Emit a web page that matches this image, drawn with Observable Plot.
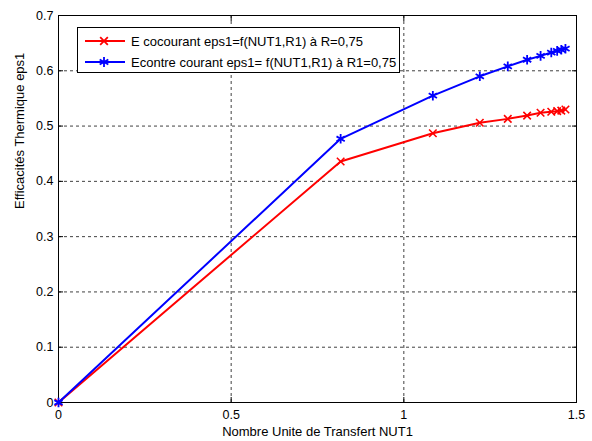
<!DOCTYPE html>
<html>
<head>
<meta charset="utf-8">
<script src="https://cdn.jsdelivr.net/npm/d3@7"></script>
<script src="https://cdn.jsdelivr.net/npm/@observablehq/plot@0.6"></script>
<style>
  html, body { margin: 0; padding: 0; background: #fff; }
  #wrap { position: relative; width: 592px; height: 441px; font-family: "Liberation Sans", Arial, sans-serif; }
  #legend {
    position: absolute; left: 77px; top: 27px; width: 321px; height: 44px;
    border: 1px solid #000; background: #fff; font-size: 13px; color: #000;
  }
  #legend .row { position: absolute; left: 0; height: 20px; display: flex; align-items: center; white-space: nowrap; }
  #legend svg { margin-left: 7px; margin-right: 6px; }
</style>
</head>
<body>
<div id="wrap"></div>
<script>
// Nombre d'unités de transfert NUT1
const nut = [0, 0.817, 1.084, 1.220, 1.301, 1.357, 1.396, 1.427, 1.444, 1.456, 1.468];
// Efficacité co-courant à R = 0,75
const epsCo = [0, 0.436, 0.487, 0.506, 0.513, 0.519, 0.524, 0.526, 0.527, 0.528, 0.530];
// Efficacité contre-courant à R1 = 0,75
const epsContre = [0, 0.477, 0.555, 0.590, 0.608, 0.620, 0.627, 0.633, 0.636, 0.638, 0.640];

const xTicks = [0, 0.5, 1, 1.5];
const yTicks = [0, 0.1, 0.2, 0.3, 0.4, 0.5, 0.6, 0.7];
const seriesNames = [
  "E cocourant eps1=f(NUT1,R1) à R=0,75",
  "Econtre courant eps1= f(NUT1,R1) à R1=0,75"
];
const xLabel = "Nombre Unite de Transfert NUT1";
const yLabel = "Efficacités Thermique eps1";

const co = nut.map((n, i) => ({n, e: epsCo[i]}));
const contre = nut.map((n, i) => ({n, e: epsContre[i]}));

const fmt = v => String(+v.toFixed(1));
const font = "Liberation Sans, Arial, sans-serif";

const chart = Plot.plot({
  width: 592,
  height: 441,
  marginLeft: 58,
  marginRight: 16,
  marginTop: 15,
  marginBottom: 39,
  style: {fontFamily: font, fontSize: "12.5px", color: "#000", background: "#fff"},
  x: {domain: [0, 1.5]},
  y: {domain: [0, 0.7]},
  marks: [
    Plot.gridX(xTicks.slice(1, -1), {stroke: "#000", strokeOpacity: 0.75, strokeDasharray: "3,3"}),
    Plot.gridY(yTicks.slice(1, -1), {stroke: "#000", strokeOpacity: 0.75, strokeDasharray: "3,3"}),
    Plot.axisX(xTicks, {anchor: "bottom", tickSize: -5, tickPadding: 13, tickFormat: fmt, label: null, fontSize: 12.5}),
    Plot.axisX(xTicks, {anchor: "top", tickSize: -5, tickFormat: () => "", label: null}),
    Plot.axisY(yTicks, {anchor: "left", tickSize: -5, tickPadding: 10, tickFormat: fmt, label: null, fontSize: 12.5}),
    Plot.axisY(yTicks, {anchor: "right", tickSize: -5, tickFormat: () => "", label: null}),
    Plot.frame({stroke: "#000"}),
    Plot.line(co, {x: "n", y: "e", stroke: "#ff0000", strokeWidth: 2}),
    Plot.dot(co, {x: "n", y: "e", symbol: "times", r: 3.5, stroke: "#ff0000", strokeWidth: 1.6}),
    Plot.line(contre, {x: "n", y: "e", stroke: "#0000ff", strokeWidth: 2}),
    Plot.dot(contre, {x: "n", y: "e", symbol: "asterisk", r: 4.5, stroke: "#0000ff", strokeWidth: 1.8}),
    Plot.text([xLabel], {frameAnchor: "bottom", dy: 33, fontSize: 13, fill: "#000"}),
    Plot.text([yLabel], {frameAnchor: "left", dx: -39, rotate: -90, fontSize: 13, fill: "#000"})
  ]
});

const wrap = document.getElementById("wrap");
wrap.appendChild(chart);

// Legend box
const legend = document.createElement("div");
legend.id = "legend";
const legendItems = [
  {name: seriesNames[0], color: "#ff0000", symbol: d3.symbolTimes, size: 40},
  {name: seriesNames[1], color: "#0000ff", symbol: d3.symbolAsterisk, size: 70}
];
legendItems.forEach((it, i) => {
  const row = document.createElement("div");
  row.className = "row";
  row.style.top = (3 + i * 21) + "px";
  const s = d3.create("svg").attr("width", 40).attr("height", 12);
  s.append("line").attr("x1", 0).attr("x2", 40).attr("y1", 6).attr("y2", 6)
    .attr("stroke", it.color).attr("stroke-width", 2);
  s.append("path").attr("d", d3.symbol(it.symbol, it.size)()).attr("transform", "translate(19,6)")
    .attr("fill", "none").attr("stroke", it.color).attr("stroke-width", 1.8);
  row.appendChild(s.node());
  const t = document.createElement("span");
  t.textContent = it.name;
  row.appendChild(t);
  legend.appendChild(row);
});
wrap.appendChild(legend);
</script>
</body>
</html>
